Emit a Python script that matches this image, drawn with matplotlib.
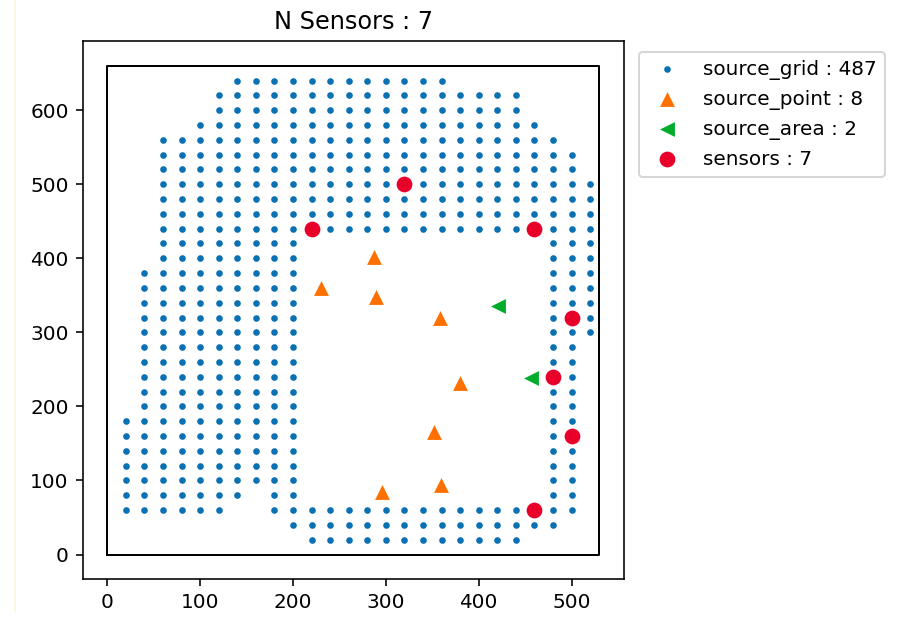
import numpy as np
import matplotlib
matplotlib.use("Agg")
import matplotlib.pyplot as plt
from matplotlib.lines import Line2D

# Source grid: for each column x, the inclusive y-ranges (step 20) that hold grid points
grid_step = 20
grid_columns = [
    (20,  [(60, 180)]),
    (40,  [(60, 380)]),
    (60,  [(60, 560)]),
    (80,  [(60, 560)]),
    (100, [(60, 580)]),
    (120, [(60, 620)]),
    (140, [(80, 640)]),
    (160, [(100, 640)]),
    (180, [(60, 640)]),
    (200, [(40, 640)]),
    (220, [(20, 60), (440, 640)]),
    (240, [(20, 60), (440, 640)]),
    (260, [(20, 60), (440, 640)]),
    (280, [(20, 60), (440, 640)]),
    (300, [(20, 60), (440, 640)]),
    (320, [(20, 60), (440, 640)]),
    (340, [(20, 60), (440, 640)]),
    (360, [(20, 60), (440, 640)]),
    (380, [(20, 60), (440, 620)]),
    (400, [(20, 60), (440, 620)]),
    (420, [(20, 60), (440, 620)]),
    (440, [(20, 60), (440, 620)]),
    (460, [(40, 60), (440, 580)]),
    (480, [(40, 560)]),
    (500, [(60, 540)]),
    (520, [(300, 500)]),
]

# Point sources
point_x = [287, 230, 289, 358, 380, 352, 359, 296]
point_y = [402, 360, 348, 320, 232, 165, 94, 85]

# Area sources
area_x = [421, 456]
area_y = [335, 239]

# Sensor locations
sensor_x = [220, 320, 460, 500, 480, 500, 460]
sensor_y = [440, 500, 440, 320, 240, 160, 60]

# Domain boundary
domain_x = [0, 530, 530, 0, 0]
domain_y = [0, 0, 660, 660, 0]

grid_x, grid_y = [], []
for gx, ranges in grid_columns:
    for lo, hi in ranges:
        ys = np.arange(lo, hi + grid_step, grid_step)
        grid_x.extend([gx] * len(ys))
        grid_y.extend(ys.tolist())

dpi = 144
fig = plt.figure(figsize=(897 / dpi, 617 / dpi), dpi=dpi)
W, H = 897, 617
ax = fig.add_axes([82.7 / W, 1 - 579 / H, (624 - 82.7) / W, (579 - 41.3) / H])

ax.plot(domain_x, domain_y, color="black", lw=1.0, zorder=1)
ax.scatter(grid_x, grid_y, s=11, color="#0a70b4", linewidths=0,
           label=f"source_grid : {len(grid_x)}", zorder=2)
ax.scatter(point_x, point_y, s=55, marker="^", color="#ff7000", linewidths=0,
           label=f"source_point : {len(point_x)}", zorder=3)
ax.scatter(area_x, area_y, s=55, marker="<", color="#00ad2a", linewidths=0,
           label=f"source_area : {len(area_x)}", zorder=3)
ax.scatter(sensor_x, sensor_y, s=62, marker="o", color="#e8002a", linewidths=0,
           label=f"sensors : {len(sensor_x)}", zorder=4)

ax.set_title(f"N Sensors : {len(sensor_x)}")
ax.set_xticks([0, 100, 200, 300, 400, 500])
ax.set_yticks([0, 100, 200, 300, 400, 500, 600])

ax.legend(loc="upper left", bbox_to_anchor=(639.3 / W, 1 - 51.7 / H),
          bbox_transform=fig.transFigure, borderaxespad=0)

# thin pale rule along the left margin
fig.add_artist(Line2D([15 / W, 15 / W], [0.01, 1.0], transform=fig.transFigure,
                      color="#fbf4dc", lw=0.8))

fig.savefig("out.png", dpi=dpi)
